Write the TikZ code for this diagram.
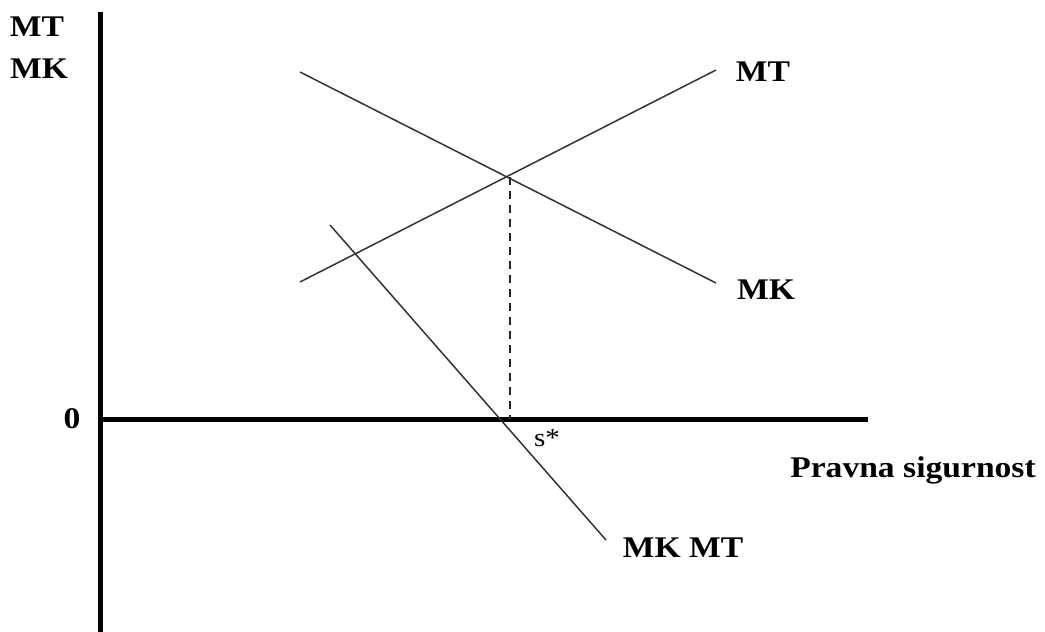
\documentclass[tikz,border=0pt]{standalone}
\usepackage{fontspec}
\setmainfont{Liberation Serif}[FakeStretch=1.12]
\begin{document}
\begin{tikzpicture}[x=1pt,y=-1pt,
  axis/.style={line width=5pt,black},
  curve/.style={line width=1.5pt,black!80},
  guide/.style={line width=1.5pt,black!85,dash pattern=on 8pt off 6pt},
  lbl/.style={font=\fontsize{30}{30}\selectfont\bfseries,inner sep=0pt,anchor=center},
  small/.style={font=\fontsize{26}{26}\selectfont,inner sep=0pt,anchor=center}]
\useasboundingbox (0,0) rectangle (1045,632);
% axes
\coordinate (ytop) at (100,12);
\coordinate (ybot) at (100,632);
\coordinate (orig) at (100,419);
\coordinate (xend) at (868,419);
\draw[axis] (ytop) -- (ybot);
\draw[axis] (orig) -- (xend);
% curves
\coordinate (mk1) at (300,72);
\coordinate (mk2) at (716,283);
\coordinate (mt1) at (300,282);
\coordinate (mt2) at (716,70);
\coordinate (d1) at (330,225);
\coordinate (d2) at (606,540);
\coordinate (eq) at (510,177);
\coordinate (sstar) at (510,419);
\draw[curve] (mk1) -- (mk2);
\draw[curve] (mt1) -- (mt2);
\draw[curve] (d1) -- (d2);
\draw[guide] (eq) -- (sstar);
% labels
\node[lbl] (yl1) at (37,27) {MT};
\node[lbl] (yl2) at (39,69) {MK};
\node[lbl] (mtl) at (763,72) {MT};
\node[lbl] (mkl) at (766,290) {MK};
\node[lbl] (zero) at (72,419) {0};
\node[small] (sl) at (547,438) {s*};
\node[lbl] (xl) at (913,470) {Pravna sigurnost};
\node[lbl] (dl) at (683,548) {MK MT};
\end{tikzpicture}
\end{document}
